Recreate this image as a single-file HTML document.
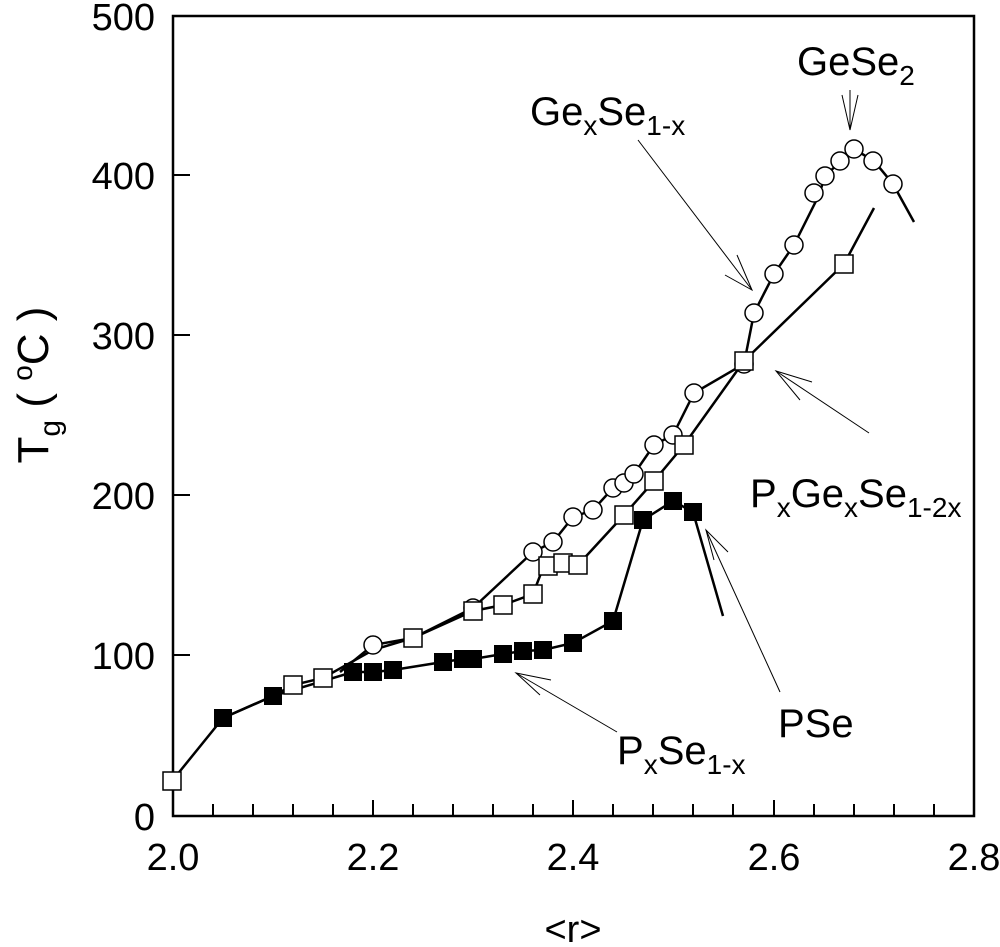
<!DOCTYPE html>
<html><head><meta charset="utf-8"><style>
body{margin:0;background:#fff}
svg{display:block}
text{font-family:"Liberation Sans",Arial,sans-serif;fill:#000}
</style></head><body>
<svg width="1000" height="947" viewBox="0 0 1000 947" xmlns="http://www.w3.org/2000/svg">
<rect x="173" y="16" width="801" height="800" fill="none" stroke="#000" stroke-width="2.5"/>
<g stroke="#000" stroke-width="2">
<line x1="173" y1="175" x2="190" y2="175"/><line x1="173" y1="335" x2="190" y2="335"/>
<line x1="173" y1="495" x2="190" y2="495"/><line x1="173" y1="655" x2="190" y2="655"/>
<line x1="213" y1="816" x2="213" y2="804"/><line x1="253" y1="816" x2="253" y2="804"/><line x1="293" y1="816" x2="293" y2="804"/><line x1="333" y1="816" x2="333" y2="804"/><line x1="373" y1="816" x2="373" y2="800"/><line x1="413" y1="816" x2="413" y2="804"/><line x1="453" y1="816" x2="453" y2="804"/><line x1="493" y1="816" x2="493" y2="804"/><line x1="533" y1="816" x2="533" y2="804"/><line x1="573" y1="816" x2="573" y2="800"/><line x1="613" y1="816" x2="613" y2="804"/><line x1="653" y1="816" x2="653" y2="804"/><line x1="693" y1="816" x2="693" y2="804"/><line x1="733" y1="816" x2="733" y2="804"/><line x1="774" y1="816" x2="774" y2="800"/><line x1="814" y1="816" x2="814" y2="804"/><line x1="854" y1="816" x2="854" y2="804"/><line x1="894" y1="816" x2="894" y2="804"/><line x1="934" y1="816" x2="934" y2="804"/>
</g>
<g font-size="38" text-anchor="end">
<text x="155" y="30">500</text><text x="155" y="189">400</text><text x="155" y="349">300</text><text x="155" y="509">200</text><text x="155" y="669">100</text><text x="155" y="830">0</text>
</g>
<g font-size="38" text-anchor="middle">
<text x="173" y="870">2.0</text><text x="373" y="870">2.2</text><text x="573" y="870">2.4</text><text x="774" y="870">2.6</text><text x="974" y="870">2.8</text>
<text x="573" y="942">&lt;r&gt;</text>
</g>
<text transform="translate(48,385) rotate(-90)" font-size="44" text-anchor="middle">T<tspan font-size="30" dy="12">g</tspan><tspan dy="-12"> ( </tspan><tspan font-size="28" dy="-16">o</tspan><tspan dy="16">C )</tspan></text>
<g fill="none" stroke="#000" stroke-width="2.5">
<polyline points="340,672 373,645 413,638 473,608 533,552 553,542 573,517 593,510 613,488 624,483 634,474 654,445 673,435 694,393 744,364 754,313 774,274 794,245 819,195 825,176 841,161 854,149 874,161 893,184 914,222"/>
<polyline points="172,781 223,718 273,696 293,685 323,678 373,650 413,638 473,611 503,605 533,594 543,568 563,563 578,565 624,515 654,481 684,445 744,361 844,264 874,208"/>
<polyline points="223,718 273,696 353,672 373,672 393,670 443,662 463,659 473,659 503,654 523,651 543,650 573,643 613,621 643,520 673,501 693,512 723,616"/>
</g>
<g fill="#fff" stroke="#000" stroke-width="1.5">
<circle cx="373" cy="645" r="9"/><circle cx="473" cy="608" r="9"/><circle cx="533" cy="552" r="9"/><circle cx="553" cy="542" r="9"/><circle cx="573" cy="517" r="9"/><circle cx="593" cy="510" r="9"/><circle cx="613" cy="488" r="9"/><circle cx="624" cy="483" r="9"/><circle cx="634" cy="474" r="9"/><circle cx="654" cy="445" r="9"/><circle cx="673" cy="435" r="9"/><circle cx="694" cy="393" r="9"/><circle cx="744" cy="364" r="9"/><circle cx="754" cy="313" r="9"/><circle cx="774" cy="274" r="9"/><circle cx="794" cy="245" r="9"/><circle cx="814" cy="193" r="9"/><circle cx="825" cy="176" r="9"/><circle cx="840" cy="161" r="9"/><circle cx="854" cy="149" r="9"/><circle cx="873" cy="161" r="9"/><circle cx="893" cy="184" r="9"/>
</g>
<g fill="#fff" stroke="#000" stroke-width="1.5">
<rect x="163" y="772" width="18" height="18"/><rect x="284" y="676" width="18" height="18"/><rect x="314" y="669" width="18" height="18"/><rect x="404" y="629" width="18" height="18"/><rect x="464" y="602" width="18" height="18"/><rect x="494" y="596" width="18" height="18"/><rect x="524" y="585" width="18" height="18"/><rect x="539" y="557" width="18" height="18"/><rect x="554" y="554" width="18" height="18"/><rect x="569" y="556" width="18" height="18"/><rect x="615" y="506" width="18" height="18"/><rect x="645" y="472" width="18" height="18"/><rect x="675" y="436" width="18" height="18"/><rect x="735" y="352" width="18" height="18"/><rect x="835" y="255" width="18" height="18"/>
</g>
<g fill="#000">
<rect x="214" y="709" width="18" height="18"/><rect x="264" y="687" width="18" height="18"/><rect x="344" y="663" width="18" height="18"/><rect x="364" y="663" width="18" height="18"/><rect x="384" y="661" width="18" height="18"/><rect x="434" y="653" width="18" height="18"/><rect x="454" y="650" width="18" height="18"/><rect x="464" y="650" width="18" height="18"/><rect x="494" y="645" width="18" height="18"/><rect x="514" y="642" width="18" height="18"/><rect x="534" y="641" width="18" height="18"/><rect x="564" y="634" width="18" height="18"/><rect x="604" y="612" width="18" height="18"/><rect x="634" y="511" width="18" height="18"/><rect x="664" y="492" width="18" height="18"/><rect x="684" y="503" width="18" height="18"/>
</g>
<g fill="none" stroke="#000" stroke-width="1">
<line x1="638" y1="140" x2="752" y2="290"/><polyline points="725,275 752,290 737,255"/>
<line x1="850" y1="90" x2="850" y2="130"/><polyline points="842,95 850,130 858,95"/>
<line x1="869" y1="433" x2="776" y2="371"/><polyline points="812,382 776,371 800,400"/>
<line x1="780" y1="692" x2="706" y2="530"/><polyline points="728,552 706,530 714,560"/>
<line x1="617" y1="732" x2="516" y2="673"/><polyline points="551,680 516,673 540,695"/>
</g>
<g font-size="40">
<text x="530" y="125">Ge<tspan font-size="28" dy="10">x</tspan><tspan dy="-10">Se</tspan><tspan font-size="28" dy="10">1-x</tspan></text>
<text x="797" y="75">GeSe<tspan font-size="28" dy="10">2</tspan></text>
<text x="750" y="507">P<tspan font-size="28" dy="10">x</tspan><tspan dy="-10">Ge</tspan><tspan font-size="28" dy="10">x</tspan><tspan dy="-10">Se</tspan><tspan font-size="28" dy="10">1-2x</tspan></text>
<text x="778" y="737">PSe</text>
<text x="617" y="764">P<tspan font-size="28" dy="10">x</tspan><tspan dy="-10">Se</tspan><tspan font-size="28" dy="10">1-x</tspan></text>
</g>
</svg>
</body></html>
